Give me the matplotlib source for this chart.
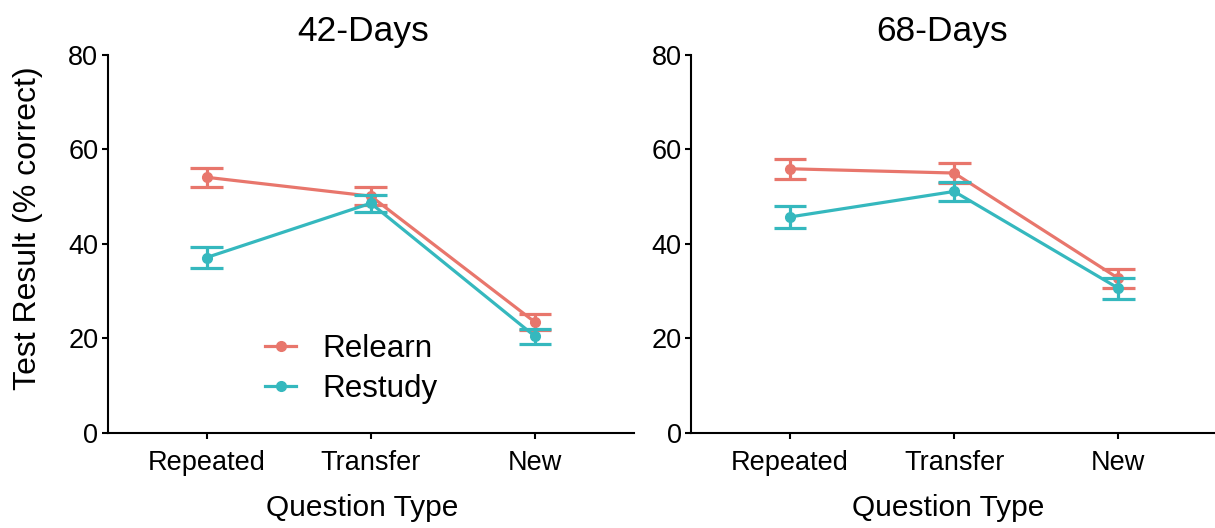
import matplotlib
matplotlib.use("Agg")
import matplotlib.pyplot as plt
import numpy as np

plt.rcParams['font.family'] = ['Liberation Sans', 'DejaVu Sans']

categories = ["Repeated", "Transfer", "New"]
panels = ["42-Days", "68-Days"]
groups = ["Relearn", "Restudy"]

relearn_42 = [54.1, 50.1, 23.4]
relearn_42_err = [2.05, 1.9, 1.7]
restudy_42 = [37.1, 48.6, 20.4]
restudy_42_err = [2.15, 1.8, 1.65]

relearn_68 = [55.9, 55.0, 32.7]
relearn_68_err = [2.1, 2.05, 2.0]
restudy_68 = [45.7, 51.1, 30.6]
restudy_68_err = [2.35, 2.05, 2.2]

yticks = [0, 20, 40, 60, 80]
colors = {"Relearn": "#E8766C", "Restudy": "#35B8BE"}

data = {
    "42-Days": {"Relearn": (relearn_42, relearn_42_err), "Restudy": (restudy_42, restudy_42_err)},
    "68-Days": {"Relearn": (relearn_68, relearn_68_err), "Restudy": (restudy_68, restudy_68_err)},
}

W, H = 1215, 528
fig = plt.figure(figsize=(W / 100, H / 100), dpi=100)

def fx(px):
    return px / W

def fy(py):
    return 1 - py / H

axes_px = [(108, 633.6), (691.5, 1216.8)]
title_cx = [363, 942.5]
xlabel_cx = [362, 948]
top_px, bot_px = 55, 432.7

x = np.arange(len(categories))
handles = []
for (l, r), panel, tcx, xcx in zip(axes_px, panels, title_cx, xlabel_cx):
    ax = fig.add_axes([fx(l), fy(bot_px), (r - l) / W, (bot_px - top_px) / H])
    for g in groups:
        vals, errs = data[panel][g]
        vals = np.array(vals)
        errs = np.array(errs)
        c = colors[g]
        ax.vlines(x, vals - errs, vals + errs, color=c, lw=2.3)
        ax.hlines(vals - errs, x - 0.1, x + 0.1, color=c, lw=2.3)
        ax.hlines(vals + errs, x - 0.1, x + 0.1, color=c, lw=2.3)
        h, = ax.plot(x, vals, color=c, lw=2.3, marker='o', ms=7, label=g)
        handles.append(h)
    ax.set_xlim(-0.6, 2.6)
    ax.set_ylim(0, 80)
    ax.set_yticks(yticks)
    ax.set_xticks(x)
    ax.set_xticklabels(categories)
    for s in ["top", "right"]:
        ax.spines[s].set_visible(False)
    for s in ["left", "bottom"]:
        ax.spines[s].set_linewidth(1.5)
    ax.tick_params(axis='both', length=4, width=1.5, labelsize=19.5, colors='black')
    ax.tick_params(axis='x', pad=8.5)
    ax.tick_params(axis='y', pad=3)
    fig.text(fx(tcx), fy(41.5), panel, fontsize=25.5, ha='center', va='baseline')
    fig.text(fx(xcx), fy(516), "Question Type", fontsize=21.5, ha='center', va='baseline')
    if panel == "42-Days":
        ax.legend(handles[:2], groups, loc='center left',
                  bbox_to_anchor=(fx(265), fy(369)), bbox_transform=fig.transFigure,
                  frameon=False, fontsize=22.6, handlelength=1.0, handletextpad=0.83,
                  labelspacing=0.3, borderpad=0, borderaxespad=0)

fig.text(fx(28), fy(228), "Test Result (% correct)", rotation=90, fontsize=23,
         ha='center', va='center')

fig.savefig("out.png", dpi=100)
